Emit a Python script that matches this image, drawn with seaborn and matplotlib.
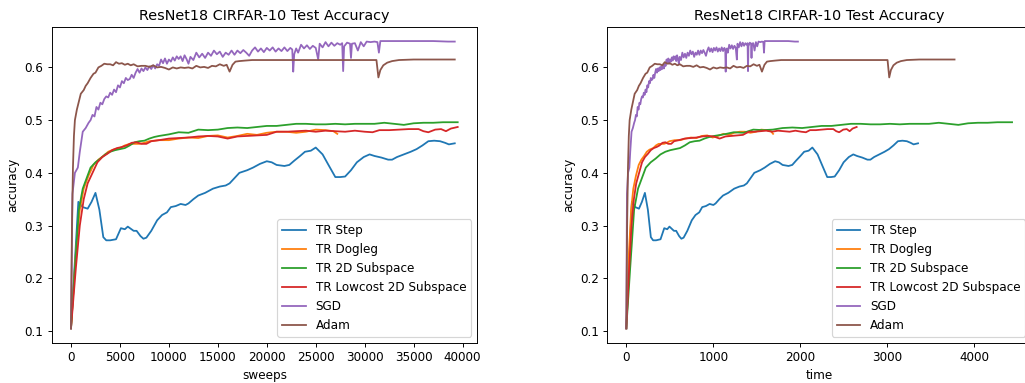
import matplotlib
matplotlib.use("Agg")
import matplotlib.pyplot as plt
import seaborn as sns
import pandas as pd

# ---------------- data (sweeps, accuracy) ----------------
methods = ["TR Step", "TR Dogleg", "TR 2D Subspace", "TR Lowcost 2D Subspace", "SGD", "Adam"]
colors = ["#1f77b4", "#ff7f0e", "#2ca02c", "#d62728", "#9467bd", "#8c564b"]

# wall-clock time per sweep for each method
time_per_sweep = [0.0855, 0.062, 0.1122, 0.0670, 0.0503, 0.0962]

tr_step = [(0, .105), (750, .345), (1200, .335), (1700, .332), (2100, .345), (2500, .362), (2900, .33),
           (3300, .278), (3600, .272), (4000, .272), (4600, .274), (5100, .295), (5500, .293), (5800, .298),
           (6400, .29), (6700, .29), (7100, .28), (7400, .275), (7700, .277), (8200, .29), (8800, .31),
           (9300, .32), (9800, .325), (10200, .335), (10700, .337), (11200, .341), (11700, .339), (12000, .342),
           (12500, .35), (13000, .357), (13700, .362), (14500, .37), (15200, .374), (15800, .376), (16200, .38),
           (16700, .39), (17200, .40), (18000, .405), (18600, .41), (19300, .417), (20000, .422), (20500, .42),
           (21000, .415), (21800, .413), (22300, .415), (22800, .423), (23400, .432), (23900, .44), (24500, .442),
           (25000, .448), (25700, .435), (26300, .415), (27000, .392), (27500, .392), (28000, .393), (28600, .405),
           (29200, .42), (29900, .43), (30500, .435), (31000, .432), (31700, .429), (32400, .425), (32800, .425),
           (33300, .43), (34000, .435), (34700, .44), (35300, .445), (35900, .452), (36500, .46), (37100, .461),
           (37700, .46), (38200, .457), (38600, .454), (39200, .456)]

tr_dogleg = [(0, .105), (500, .25), (900, .33), (1300, .37), (1800, .395), (2300, .415), (2800, .425),
             (3300, .432), (3800, .44), (4300, .444), (5000, .447), (5500, .452), (6000, .455), (6500, .455),
             (7000, .455), (7500, .457), (8000, .46), (9000, .462), (10000, .462), (11000, .465), (12000, .467),
             (13000, .466), (14000, .47), (15000, .471), (16000, .467), (17000, .47), (18000, .474), (19000, .472),
             (20000, .476), (21000, .478), (22000, .478), (23000, .476), (24000, .478), (25000, .482),
             (26000, .481), (26800, .479), (27200, .474)]

tr_2d = [(0, .105), (400, .22), (800, .33), (1200, .37), (1600, .39), (2000, .41), (2500, .42), (3000, .427),
         (3500, .435), (4000, .44), (4500, .443), (5000, .445), (5500, .447), (6000, .452), (6500, .458),
         (7000, .46), (7500, .461), (8000, .465), (8500, .468), (9000, .47), (10000, .473), (11000, .477),
         (12000, .476), (13000, .482), (14000, .481), (15000, .482), (16000, .485), (17000, .486), (18000, .485),
         (19000, .487), (20000, .489), (21000, .489), (22000, .491), (23000, .493), (24000, .493), (25000, .492),
         (26000, .492), (27000, .493), (28000, .492), (29000, .493), (30000, .493), (31000, .493), (32000, .495),
         (33000, .493), (34000, .491), (35000, .494), (36000, .495), (37000, .495), (38000, .496), (39500, .496)]

tr_lowcost = [(0, .105), (500, .22), (900, .30), (1300, .35), (1700, .38), (2200, .40), (2700, .42), (3200, .43),
              (3700, .436), (4200, .443), (4700, .447), (5200, .449), (5700, .452), (6200, .457), (6700, .458),
              (7200, .455), (7700, .455), (8200, .46), (9000, .462), (10000, .465), (11000, .466), (12000, .467),
              (13000, .469), (14000, .47), (15000, .469), (16000, .465), (17000, .469), (18000, .47), (19000, .471),
              (20000, .472), (21000, .478), (22000, .478), (23000, .479), (24000, .48), (25000, .478), (26000, .48),
              (27000, .479), (28000, .478), (29000, .48), (30000, .478), (30800, .477), (31500, .481), (32500, .481),
              (33500, .482), (34500, .483), (35500, .483), (36000, .479), (36500, .477), (37200, .482), (37800, .483),
              (38300, .479), (38800, .484), (39500, .487)]

sgd = [(0, .105), (150, .36), (400, .40), (700, .41), (900, .44), (1200, .478), (1500, .485), (1800, .495),
       (2000, .50), (2200, .51), (2400, .507), (2600, .525), (2800, .52), (3000, .533), (3200, .53), (3400, .54),
       (3600, .545), (3800, .543), (4000, .552), (4200, .548), (4400, .558), (4600, .553), (4800, .566),
       (5000, .562), (5200, .574), (5400, .57), (5600, .58), (5800, .576), (6000, .578), (6200, .586), (6400, .58),
       (6600, .59), (6800, .597), (7000, .59), (7200, .598), (7400, .593), (7600, .60), (7800, .595), (8000, .602),
       (8200, .597), (8400, .604), (8600, .598), (8800, .606), (9000, .603), (9200, .615), (9400, .608),
       (9600, .617), (9800, .607), (10000, .615), (10200, .611), (10400, .619), (10600, .613), (10800, .621),
       (11000, .616), (11200, .621), (11400, .612), (11600, .623), (11800, .616), (12000, .607), (12200, .62),
       (12500, .614), (12800, .628), (13100, .619), (13400, .626), (13700, .618), (14000, .628), (14300, .622),
       (14600, .632), (14900, .625), (15200, .63), (15500, .62), (15800, .628), (16100, .624), (16400, .632),
       (16700, .624), (17000, .632), (17300, .627), (17600, .633), (17900, .628), (18200, .622), (18500, .632),
       (18800, .638), (19100, .63), (19400, .636), (19700, .629), (20000, .637), (20300, .632), (20600, .638),
       (20900, .63), (21200, .636), (21500, .631), (21800, .638), (22100, .631), (22400, .637), (22600, .634),
       (22700, .592), (22800, .625), (23000, .636), (23200, .628), (23500, .643), (23800, .636), (24100, .642),
       (24400, .635), (24700, .641), (25000, .637), (25250, .615), (25400, .645), (25700, .638), (26000, .648),
       (26300, .64), (26600, .647), (26900, .641), (27200, .646), (27500, .643), (27700, .646), (27800, .593),
       (27900, .64), (28200, .647), (28500, .645), (28600, .618), (28700, .645), (29000, .646), (29300, .632),
       (29600, .648), (29900, .64), (30200, .649), (30600, .648), (31000, .649), (31300, .648), (31450, .628),
       (31600, .65), (32500, .65), (34000, .65), (35500, .65), (37000, .65), (38500, .649), (39200, .649)]

adam = [(0, .105), (100, .30), (200, .41), (300, .47), (400, .50), (600, .52), (800, .535), (1000, .55),
        (1300, .557), (1500, .565), (1700, .57), (2000, .58), (2300, .588), (2500, .59), (2800, .60), (3100, .603),
        (3400, .607), (3700, .606), (4000, .606), (4300, .604), (4600, .61), (4900, .607), (5200, .608),
        (5500, .605), (5800, .607), (6100, .604), (6400, .606), (6800, .602), (7200, .603), (7600, .603),
        (8000, .601), (8400, .604), (8800, .60), (9200, .601), (9600, .599), (10000, .596), (10400, .60),
        (10800, .598), (11200, .60), (11600, .599), (12000, .60), (12400, .598), (12800, .603), (13200, .60),
        (13600, .601), (14000, .599), (14400, .603), (14800, .602), (15200, .606), (15600, .603), (15900, .605),
        (16200, .592), (16500, .605), (16800, .611), (17200, .612), (17800, .613), (18500, .614), (20000, .614),
        (22000, .614), (24000, .614), (26000, .614), (28000, .614), (30000, .614), (31200, .614), (31400, .581),
        (31600, .595), (31900, .604), (32300, .609), (32800, .612), (33500, .614), (35000, .615), (37000, .615),
        (39200, .615)]

series = [tr_step, tr_dogleg, tr_2d, tr_lowcost, sgd, adam]

# ---------------- build table ----------------
rows = []
for name, pts, rate in zip(methods, series, time_per_sweep):
    for order, (s, a) in enumerate(pts):
        rows.append({"method": name, "order": order, "sweeps": s, "time": s * rate, "accuracy": a})
df = pd.DataFrame(rows)

# ---------------- figure ----------------
DPI = 86
fig = plt.figure(figsize=(1025 / DPI, 383 / DPI), dpi=DPI)
ax1 = fig.add_axes([0.0504, 0.1052, 0.4150, 0.8251])
ax2 = fig.add_axes([0.5922, 0.1052, 0.4140, 0.8251])

for ax, xcol in ((ax1, "sweeps"), (ax2, "time")):
    for name, col in zip(methods, colors):
        sub = df[df["method"] == name]
        sns.lineplot(data=sub, x=xcol, y="accuracy", ax=ax, color=col, label=name,
                     sort=False, estimator=None, linewidth=1.5)
    ax.set_title("ResNet18 CIRFAR-10 Test Accuracy", fontsize=12)
    ax.set_xlabel(xcol)
    ax.set_ylabel("accuracy")
    ax.legend(loc="lower right", fontsize=10)

ax1.set_xticks([0, 5000, 10000, 15000, 20000, 25000, 30000, 35000, 40000])
ax2.set_xticks([0, 1000, 2000, 3000, 4000])
for ax in (ax1, ax2):
    ax.set_yticks([0.1, 0.2, 0.3, 0.4, 0.5, 0.6])

fig.savefig("out.png", dpi=DPI)
